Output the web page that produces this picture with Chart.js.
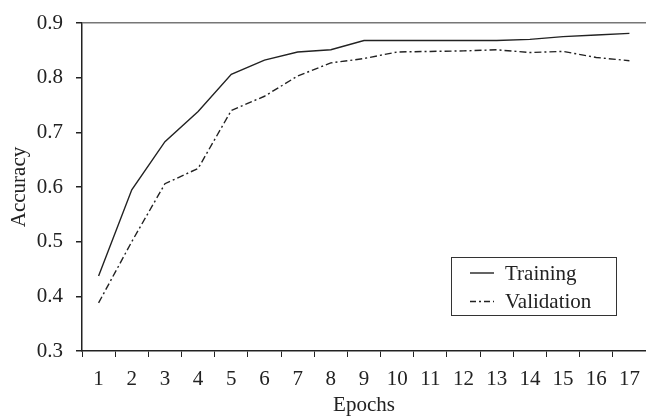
<!DOCTYPE html>
<html lang="en">
<head>
<meta charset="UTF-8">
<title>Accuracy vs Epochs</title>
<script src="https://cdn.jsdelivr.net/npm/chart.js"></script>
<style>
  body { margin: 0; background: #fff; overflow: hidden; }
  #wrap { width: 646px; height: 418px; }
</style>
</head>
<body>
<div id="wrap"><canvas id="accChart" width="646" height="418"></canvas></div>
<script>
// values
const epochs = ['1','2','3','4','5','6','7','8','9','10','11','12','13','14','15','16','17'];
const training = [0.437, 0.595, 0.683, 0.738, 0.806, 0.832, 0.847, 0.851, 0.868, 0.868, 0.868, 0.868, 0.868, 0.870, 0.875, 0.878, 0.881];
const validation = [0.388, 0.500, 0.606, 0.634, 0.740, 0.766, 0.803, 0.827, 0.835, 0.847, 0.848, 0.849, 0.851, 0.846, 0.848, 0.837, 0.831];

const serif = "'Liberation Serif', 'DejaVu Serif', serif";
const ink = '#222';
const fontSize = 21;

// boxed legend in the lower right of the plot
const boxLegend = {
  id: 'boxLegend',
  afterDraw(chart) {
    const c = chart.ctx;
    const x0 = 451, y0 = 257, w = 165, h = 58;
    c.save();
    c.strokeStyle = '#333';
    c.lineWidth = 1;
    c.strokeRect(x0 + 0.5, y0 + 0.5, w, h);
    c.font = fontSize + 'px ' + serif;
    c.fillStyle = ink;
    c.textBaseline = 'middle';
    chart.data.datasets.forEach((ds, i) => {
      const y = y0 + 16 + i * 28.5;
      c.beginPath();
      c.setLineDash(i === 1 ? [6, 3, 2, 3] : []);
      c.lineWidth = ds.borderWidth;
      c.strokeStyle = ds.borderColor;
      c.moveTo(x0 + 19, y);
      c.lineTo(x0 + 43, y);
      c.stroke();
      c.setLineDash([]);
      c.fillText(ds.label, x0 + 54, y + 1);
    });
    c.restore();
  }
};

new Chart(document.getElementById('accChart'), {
  type: 'line',
  data: {
    labels: epochs,
    datasets: [
      { label: 'Training', data: training, borderColor: '#222', borderWidth: 1.4,
        pointRadius: 0, tension: 0, fill: false },
      { label: 'Validation', data: validation, borderColor: '#222', borderWidth: 1.4,
        borderDash: [7, 3, 2, 3], pointRadius: 0, tension: 0, fill: false }
    ]
  },
  options: {
    responsive: false,
    animation: false,
    layout: { padding: { top: 23, right: 0, left: 0, bottom: 0 } },
    plugins: { legend: { display: false }, tooltip: { enabled: false } },
    scales: {
      x: {
        offset: true,
        grid: { offset: true, drawOnChartArea: false, tickLength: 6, tickColor: ink },
        border: { color: ink, width: 1.5 },
        ticks: { color: ink, font: { family: serif, size: fontSize }, padding: 10, maxRotation: 0, autoSkip: false },
        title: { display: true, text: 'Epochs', color: ink, font: { family: serif, size: fontSize }, padding: { top: 0, bottom: 0 } },
        afterFit: s => { s.height = 67; s.paddingLeft = 0; s.paddingRight = 0; }
      },
      y: {
        min: 0.3, max: 0.9,
        grid: {
          tickLength: 6, tickColor: ink,
          color: ctx => (ctx.tick && Math.abs(ctx.tick.value - 0.9) < 1e-6) ? '#777' : 'rgba(0,0,0,0)',
          lineWidth: 1.5
        },
        border: { color: ink, width: 1.5 },
        ticks: { stepSize: 0.1, color: ink, font: { family: serif, size: fontSize }, padding: 13,
          callback: v => v.toFixed(1) },
        title: { display: true, text: 'Accuracy', color: ink, font: { family: serif, size: fontSize }, padding: { top: 7, bottom: 0 } },
        afterFit: s => { s.width = 82; s.paddingTop = 0; s.paddingBottom = 0; }
      }
    }
  },
  plugins: [boxLegend]
});
</script>
</body>
</html>
